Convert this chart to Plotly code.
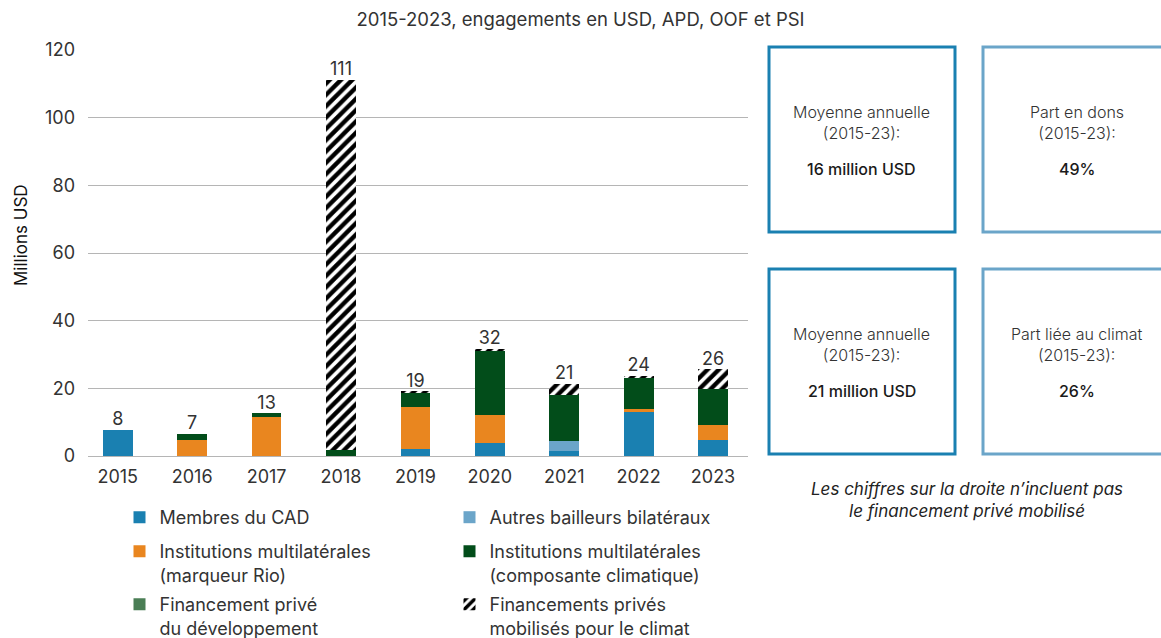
import plotly.graph_objects as go

# Annual commitments, million USD
years = ["2015", "2016", "2017", "2018", "2019", "2020", "2021", "2022", "2023"]
membres_cad = [7.8, 0.0, 0.0, 0.0, 2.0, 3.8, 1.4, 12.9, 4.6]
autres_bilateraux = [0.0, 0.0, 0.0, 0.0, 0.0, 0.0, 2.9, 0.0, 0.0]
multi_rio = [0.0, 4.7, 11.6, 0.0, 12.5, 8.2, 0.0, 0.9, 4.5]
multi_climat = [0.0, 1.9, 1.0, 1.8, 4.2, 19.2, 13.6, 9.5, 10.8]
prive_dev = [0.0, 0.0, 0.0, 0.0, 0.0, 0.0, 0.0, 0.0, 0.0]
prive_mobilise = [0.0, 0.0, 0.0, 109.4, 0.4, 0.5, 3.5, 0.4, 5.8]

# (legend text, values, colour, legend row)
series = [
    ("Membres du CAD", membres_cad, "#1a80b1", "legend"),
    ("Autres bailleurs bilatéraux", autres_bilateraux, "#6ba5c9", "legend"),
    ("Institutions multilatérales<br>(marqueur Rio)", multi_rio, "#e9861f", "legend2"),
    ("Institutions multilatérales<br>(composante climatique)", multi_climat, "#024d1a", "legend2"),
    ("Financement privé<br>du développement", prive_dev, "#4a7e55", "legend3"),
]

totals = [sum(v) for v in zip(membres_cad, autres_bilateraux, multi_rio,
                              multi_climat, prive_dev, prive_mobilise)]
total_labels = [str(int(t + 0.5)) for t in totals]

FONT = "Inter"
TXT = "#333333"

# plot area in pixels
L, R, T, B = 88, 413, 50, 182
W, H = 1161, 638
PW, PH = W - L - R, H - T - B


def px(x):
    return (x - L) / PW


def py(y):
    return (H - B - y) / PH


fig = go.Figure()
for name, vals, col, leg in series:
    fig.add_trace(go.Bar(
        x=years, y=vals, name=name, width=0.4, legend=leg,
        marker=dict(color=col, line=dict(width=0)),
        hoverinfo="skip",
    ))

fig.add_trace(go.Bar(
    x=years, y=prive_mobilise, name="Financements privés<br>mobilisés pour le climat",
    width=0.4, legend="legend3",
    marker=dict(color="white", line=dict(width=0),
                pattern=dict(shape="/", fgcolor="#000000", bgcolor="white",
                             fgopacity=1, size=8, solidity=0.55)),
    hoverinfo="skip",
))

fig.add_trace(go.Scatter(
    x=years, y=totals, mode="text", text=total_labels,
    textposition="top center",
    textfont=dict(family=FONT, size=18, color=TXT),
    showlegend=False, hoverinfo="skip", cliponaxis=False,
))

# summary boxes on the right
boxes = [
    (769, 955, 47, 232, "#1a80b1", "Moyenne annuelle<br>(2015-23):", "16 million USD"),
    (983, 1175, 47, 232, "#6ba5c9", "Part en dons<br>(2015-23):", "49%"),
    (769, 955, 269, 454, "#1a80b1", "Moyenne annuelle<br>(2015-23):", "21 million USD"),
    (983, 1175, 269, 454, "#6ba5c9", "Part liée au climat<br>(2015-23):", "26%"),
]
shapes = []
annotations = []
for x0, x1, y0, y1, col, head, value in boxes:
    shapes.append(dict(type="rect", xref="paper", yref="paper",
                       x0=px(x0), x1=px(x1), y0=py(y0), y1=py(y1),
                       line=dict(color=col, width=3), fillcolor="rgba(0,0,0,0)"))
    cx = (x0 + x1) / 2 if x1 < 1161 else 1077
    annotations.append(dict(xref="paper", yref="paper", x=px(cx), y=py(y0 + 75),
                            text=head, showarrow=False, xanchor="center", yanchor="middle",
                            font=dict(family=FONT, size=16, color=TXT, weight=300)))
    annotations.append(dict(xref="paper", yref="paper", x=px(cx), y=py(y0 + 122),
                            text=value, showarrow=False, xanchor="center", yanchor="middle",
                            font=dict(family=FONT, size=16, color="#1a1a1a", weight=500)))

annotations.append(dict(
    xref="paper", yref="paper", x=px(967), y=py(500),
    text="<i>Les chiffres sur la droite n’incluent pas<br>le financement privé mobilisé</i>",
    showarrow=False, xanchor="center", yanchor="middle", align="center",
    font=dict(family=FONT, size=17, color="#222222"),
))

annotations.append(dict(
    xref="paper", yref="paper", x=px(21), y=py(235), textangle=-90,
    text="Millions USD", showarrow=False, xanchor="center", yanchor="middle",
    font=dict(family=FONT, size=17, color="#111111"),
))


def legend_row(top_px):
    return dict(orientation="h", xref="container", yref="container",
                x=119.5 / W, xanchor="left", y=1 - top_px / H, yanchor="top",
                entrywidth=285, traceorder="normal", valign="top",
                font=dict(family=FONT, size=18, color=TXT), bgcolor="rgba(0,0,0,0)")


fig.update_layout(
    width=W, height=H,
    margin=dict(l=L, r=R, t=T, b=B),
    paper_bgcolor="white", plot_bgcolor="white",
    barmode="stack",
    title=dict(text="2015-2023, engagements en USD, APD, OOF et PSI",
               x=0.5, xref="container", y=1 - 20 / H, yanchor="middle",
               font=dict(family=FONT, size=18.5, color=TXT)),
    font=dict(family=FONT, size=18, color=TXT),
    xaxis=dict(type="category", range=[-0.4, 8.47], showgrid=False,
               showline=False, ticks="", ticklabelstandoff=8,
               tickfont=dict(family=FONT, size=18, color=TXT)),
    yaxis=dict(range=[0, 120], dtick=20, showgrid=True, gridcolor="#b5b5b5",
               gridwidth=1.3, zeroline=True, zerolinecolor="#b5b5b5", zerolinewidth=1.3,
               showline=False, ticks="", ticklabelstandoff=12,
               tickfont=dict(family=FONT, size=18, color=TXT)),
    legend=legend_row(499),
    legend2=legend_row(533),
    legend3=legend_row(586),
    shapes=shapes,
    annotations=annotations,
    showlegend=True,
)

fig.write_html("out.html")
